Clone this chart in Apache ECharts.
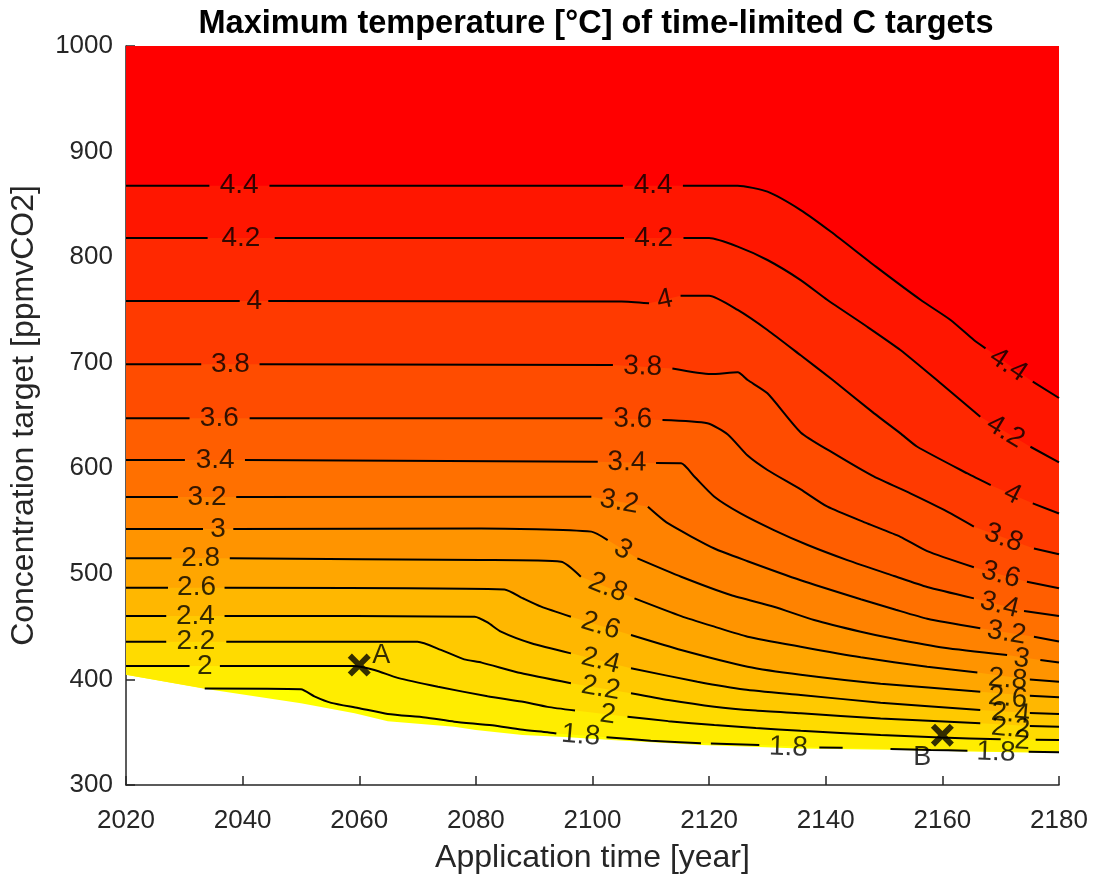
<!DOCTYPE html>
<html>
<head>
<meta charset="utf-8">
<script src="https://cdn.jsdelivr.net/npm/echarts@6/dist/echarts.min.js"></script>
<style>
html,body{margin:0;padding:0;background:#fff;}
#chart{width:1094px;height:881px;}
</style>
</head>
<body>
<div id="chart"></div>
<script>
// ---------- data (year, ppmv) ----------
const GAP = null;
const xTicks = [2020, 2040, 2060, 2080, 2100, 2120, 2140, 2160, 2180];
const yTicks = [300, 400, 500, 600, 700, 800, 900, 1000];
const levels = [1.8, 2.0, 2.2, 2.4, 2.6, 2.8, 3.0, 3.2, 3.4, 3.6, 3.8, 4.0, 4.2, 4.4];

// lower edge of the computed domain (white below)
const boundary = [[2020,404.5],[2033.5,391.2],[2050,377.4],[2059.2,368],[2064.9,360.5],[2076.3,355.2],[2080,352],[2088,347.4],[2095.2,345.5],[2103.2,342.6],[2118.6,338],[2135.7,334.5],[2151,333.3],[2166.5,331.6],[2180,330.3]];

const c18 = [[2033.5,391.4],[2050,390.7],[2052.3,384],[2055.2,377.8],[2059.8,373],[2064.9,367.3],[2071.3,364],[2076.3,360],[2082.8,356.5],[2087.7,352.5],[2092.3,349.9],[2093.8,348.8],GAP,[2102.4,345.2],[2110,342],[2118.6,339.5],GAP,[2120.3,339.2],[2128.6,337.9],GAP,[2138.9,335.6],[2142.9,335.2],GAP,[2151.1,334.1],[2158,333.2],[2164.3,332.5],GAP,[2174.8,331.5],[2180,331]];
const c20 = [[2020,412.7],[2030.9,412.7],GAP,[2036.1,412.7],[2059,412.7],[2062.6,409],[2066.6,401.5],[2073.5,393.1],[2082,384],[2087.8,379],[2092.3,374],[2097,370.5],GAP,[2106,364.7],[2113,360.5],[2120.9,356.8],[2128,354],[2135.7,351.4],[2149.4,347.4],[2159.7,345],[2170,343.3],GAP,[2176,342.8],[2180,342.6]];
const c22 = [[2020,435.7],[2026.9,435.7],GAP,[2037.2,435.7],[2070,435.7],[2074,428],[2078,419],[2081,415.9],[2087.7,406],[2096.3,396.3],GAP,[2106.6,386.9],[2113,380.5],[2120.9,374.2],[2128,370.5],[2135.7,367.9],[2149.4,363],[2166.5,358.4],GAP,[2175,356],[2180,355.2]];
const c24 = [[2020,460.1],[2026.9,460.1],GAP,[2036.9,460.1],[2079.8,459.4],[2082,454],[2084.3,445.2],[2089.5,434.2],[2096.3,424.7],GAP,[2106.6,410.5],[2118,397.9],[2126,390.5],[2135.7,385.3],[2149.4,378],[2166.5,371.1],GAP,[2175,368.2],[2180,367.3]];
const c26 = [[2020,486.9],[2027.2,486.9],GAP,[2036.9,486.9],[2084.9,485.3],[2088,477],[2091.2,468.9],[2096.3,459.4],GAP,[2106.6,442.1],[2115.2,427.9],[2126.6,412.1],[2135.7,404.5],[2149.4,396],[2166.5,388.4],GAP,[2175,384.5],[2180,383.1]];
const c28 = [[2020,514.7],[2027.8,514.7],GAP,[2037.8,514.7],[2080.9,513.1],[2094.6,511.5],[2098,497.3],GAP,[2107.2,476.8],[2115.2,460],[2120.9,450],[2126.6,440.5],[2135.7,431],[2146,421],[2157.4,412],[2166,406.5],GAP,[2175,400],[2180,397.9]];
const c30 = [[2020,542.5],[2033.2,542.5],GAP,[2038.4,542.5],[2080.9,543],[2099.8,540],[2102.6,532],GAP,[2107.7,514.7],[2115.2,497.3],[2123.7,480],[2131.1,468.9],[2138,456.3],[2146,445.2],[2151.7,438.5],[2160.3,430],[2171.1,423.1],GAP,[2176.8,418.4],[2180,416]];
const c32 = [[2020,572.8],[2028.9,572.8],GAP,[2038.9,572.8],[2099.8,573],GAP,[2109.5,563.6],[2112.9,548],[2120.9,524],[2126.6,512],[2135.7,494],[2146,476],[2152,466],[2157.4,457.5],[2166.5,448.4],GAP,[2175.7,440.5],[2180,436]];
const c34 = [[2020,607.8],[2030.1,607.8],GAP,[2040.4,607.8],[2100.9,606.2],GAP,[2110.9,604.9],[2115.2,604.7],[2117.5,592],[2120.9,573.1],[2125.4,557.3],[2131.1,541.5],[2136.9,527.3],[2143.7,513],[2151.7,498],[2157.4,487.5],[2165.4,476.8],GAP,[2174,464.8],[2180,460.1]];
const c36 = [[2020,647.3],[2030.9,647.3],GAP,[2041.2,647.3],[2101.7,647.3],GAP,[2112,645.7],[2119.7,642.6],[2123.2,632],[2126.6,612],[2130,598.4],[2135.7,580],[2140.3,563.6],[2147.1,547.8],[2152.8,535.1],[2157.4,521.5],[2165.4,506.2],GAP,[2174.5,492.6],[2180,486.3]];
const c38 = [[2020,698.5],[2032.9,698.5],GAP,[2042.9,698.5],[2103.5,697.8],GAP,[2113.7,694.6],[2120.3,689.3],[2124.9,690.9],[2126.6,683.6],[2130,671],[2135.7,634],[2140.9,615.7],[2148.3,592],[2154.5,576.3],[2160.3,560.5],[2165.4,544.7],GAP,[2175.7,524.1],[2180,518.5]];
const c40 = [[2020,758.4],[2039.5,758.4],GAP,[2044.4,758.4],[2105,758],[2109.7,756.3],GAP,[2115.1,763.5],[2120,763.5],[2124.9,750],[2130,731],[2135.7,707],[2141.2,683.6],[2148.3,652],[2152.8,633.1],[2155.7,620.4],[2164.3,595.1],[2168.3,584],GAP,[2175.5,566.8],[2180,557.2]];
const c42 = [[2020,818.1],[2034,818.1],GAP,[2045.5,818.1],[2105.4,818.1],GAP,[2115.6,818.1],[2120,818.1],[2124.9,810],[2130,797.3],[2135.7,778.3],[2140.3,759.4],[2147.1,734.1],[2152.8,712],[2159.7,680.5],[2166.5,648.9],GAP,[2175.1,620.4],[2180,605.7]];
const c44 = [[2020,867.7],[2034.3,867.7],GAP,[2044.6,867.7],[2105.2,867.7],GAP,[2115.5,867.7],[2124.9,867.7],[2130,862],[2135.7,844.6],[2140.9,824],[2148.6,791],[2156.3,759.4],[2161.4,740.5],[2165.4,721.5],[2167.4,713.6],GAP,[2175.5,682],[2180,666.6]];
const contours = [c18, c20, c22, c24, c26, c28, c30, c32, c34, c36, c38, c40, c42, c44];

// inline contour labels: [year, ppmv, text, rotation in degrees]
const contourLabels = [
  [2039.4,867.7,'4.4',0],[2039.7,818.1,'4.2',0],[2042,758.4,'4',0],[2037.9,698.5,'3.8',0],[2036,647.3,'3.6',0],
  [2035.3,607.8,'3.4',0],[2033.9,572.8,'3.2',0],[2035.8,542.5,'3',0],[2032.8,514.7,'2.8',0],[2032.1,486.9,'2.6',0],
  [2031.9,460.1,'2.4',0],[2032,435.7,'2.2',0],[2033.5,412.7,'2',0],
  [2110.4,867.7,'4.4',0],[2110.5,818.1,'4.2',0],[2112.4,759.5,'4',12],[2108.6,696.3,'3.8',-2],[2106.9,646.5,'3.6',-1],
  [2105.9,605.5,'3.4',-1],[2104.6,568,'3.2',-10],[2105.2,523,'3',-31],[2102.6,487,'2.8',-22],[2101.4,450.7,'2.6',-17],
  [2101.4,417.6,'2.4',-14],[2101.4,391.6,'2.2',-10],[2102.6,366.5,'2',-8],[2098,346.8,'1.8',-5],[2133.6,335.5,'1.8',-2],
  [2171.3,697.8,'4.4',-34],[2170.8,634.6,'4.2',-31],[2172,575.6,'4',-27],[2170.5,534,'3.8',-20],[2170,499,'3.6',-15],
  [2169.8,470.5,'3.4',-14],[2171,444,'3.2',-9],[2173.6,419.5,'3',-9],[2171.2,400,'2.8',-5],[2171.2,382.5,'2.6',-5],
  [2171.7,367.5,'2.4',-5],[2171.7,353.5,'2.2',-5],[2173.7,341.8,'2',-3],[2169.2,330.8,'1.8',-2]
];

// marked points
const markerYears = [2060, 2160];
const markerPpm = [413.6, 347.2];
const markerNames = ['A', 'B'];

// ---------- colours: MATLAB "autumn" mapped over temperature ----------
const cMin = 1.7, cMax = 4.55;
function autumn(t) {
  const g = Math.round(255 * Math.min(1, Math.max(0, (cMax - t) / (cMax - cMin))));
  return 'rgb(255,' + g + ',0)';
}

// painter's fill: domain in yellow, then each region above a contour level
const TOP = 1000, X0 = 2020, X1 = 2180;
const solid = a => a.filter(p => p !== null);
const polys = [];
polys.push({ pts: boundary.concat([[X1, TOP], [X0, TOP]]), color: 'rgb(255,255,0)' });
contours.forEach((c, i) => {
  let pts = solid(c);
  if (pts[0][0] > X0) pts = [boundary[0]].concat(pts);
  const upper = i + 1 < levels.length ? levels[i] + 0.1 : 4.7;
  polys.push({ pts: pts.concat([[X1, TOP], [X0, TOP]]), color: autumn(upper) });
});

const FONT = '"Liberation Sans", Arial, Helvetica, sans-serif';
const chart = echarts.init(document.getElementById('chart'), null, { renderer: 'canvas' });

const series = [];
series.push({
  type: 'custom',
  coordinateSystem: 'cartesian2d',
  silent: true,
  clip: true,
  z: 1,
  data: polys.map(() => [2100, 650]),
  renderItem: function (params, api) {
    const p = polys[params.dataIndex];
    return {
      type: 'polygon',
      shape: { points: p.pts.map(q => api.coord(q)) },
      style: { fill: p.color, stroke: null }
    };
  }
});
contours.forEach(c => {
  series.push({
    type: 'line',
    data: c.map(p => p === null ? ['-', '-'] : p),
    showSymbol: false,
    symbol: 'none',
    connectNulls: false,
    smooth: 0.2,
    silent: true,
    z: 3,
    lineStyle: { color: '#000', width: 2 }
  });
});
series.push({
  type: 'scatter',
  silent: true,
  z: 4,
  symbolSize: 0,
  data: contourLabels.map(l => ({ value: [l[0], l[1]], name: l[2], label: { rotate: l[3] } })),
  label: {
    show: true, position: 'inside', formatter: p => p.name,
    fontSize: 28, color: '#000', fontFamily: FONT
  }
});
const xPath = 'path://M0,1.8L1.8,0L5,3.2L8.2,0L10,1.8L6.8,5L10,8.2L8.2,10L5,6.8L1.8,10L0,8.2L3.2,5Z';
const markerOffsets = [[22, -10], [-20, 22]];
series.push({
  type: 'scatter',
  silent: true,
  z: 5,
  symbol: xPath,
  symbolSize: 23,
  itemStyle: { color: '#000' },
  data: markerYears.map((y, i) => ({
    value: [y, markerPpm[i]], name: markerNames[i],
    label: { offset: markerOffsets[i] }
  })),
  label: {
    show: true, position: 'inside', formatter: p => p.name,
    fontSize: 27, color: '#000', fontFamily: FONT
  }
});

chart.setOption({
  animation: false,
  backgroundColor: '#fff',
  title: {
    text: 'Maximum temperature [°C] of time-limited C targets',
    left: 591, top: 3, textAlign: 'center',
    textStyle: { fontSize: 32.5, fontWeight: 'bold', color: '#000', fontFamily: FONT }
  },
  grid: { left: 125, right: 35, top: 46, bottom: 96, containLabel: false },
  xAxis: {
    type: 'value', min: 2020, max: 2180, interval: 20,
    name: 'Application time [year]', nameLocation: 'middle', nameGap: 57,
    nameTextStyle: { fontSize: 32, color: '#262626', fontFamily: FONT },
    axisLine: { show: true, onZero: false, lineStyle: { color: '#262626', width: 1.5 } },
    axisTick: { show: true, inside: true, length: 9, lineStyle: { color: '#262626', width: 1.5 } },
    axisLabel: { fontSize: 26, color: '#262626', margin: 23, fontFamily: FONT, formatter: v => xTicks.includes(v) ? String(v) : '' },
    splitLine: { show: false }
  },
  yAxis: {
    type: 'value', min: 300, max: 1000, interval: 100,
    name: 'Concentration target [ppmvCO2]', nameLocation: 'middle', nameGap: 86,
    nameTextStyle: { fontSize: 32, color: '#262626', fontFamily: FONT },
    axisLine: { show: true, onZero: false, lineStyle: { color: '#262626', width: 1.5 } },
    axisTick: { show: true, inside: true, length: 9, lineStyle: { color: '#262626', width: 1.5 } },
    axisLabel: { fontSize: 26, color: '#262626', margin: 13, fontFamily: FONT, formatter: v => yTicks.includes(v) ? String(v) : '' },
    splitLine: { show: false }
  },
  series: series
});
</script>
</body>
</html>
